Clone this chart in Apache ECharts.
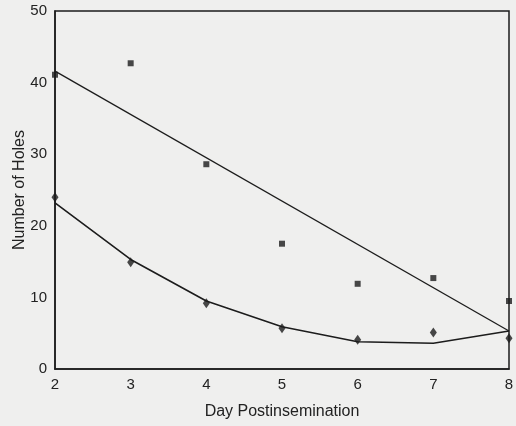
<!DOCTYPE html>
<html>
<head>
<meta charset="utf-8">
<script src="https://cdn.jsdelivr.net/npm/echarts@6/dist/echarts.min.js"></script>
<style>
html,body{margin:0;padding:0;background:#efefee;}
#c{width:516px;height:426px;}
</style>
</head>
<body>
<div id="c"></div>
<script>
var days = [2, 3, 4, 5, 6, 7, 8];
var squareValues = [41.1, 42.7, 28.6, 17.5, 11.9, 12.7, 9.5];
var diamondValues = [24.0, 14.9, 9.2, 5.7, 4.1, 5.1, 4.3];
var upperFitDays = [2, 8];
var upperFitValues = [41.6, 5.3];
var lowerFitValues = [23.2, 15.3, 9.5, 5.9, 3.8, 3.6, 5.3];
var yTicks = [0, 10, 20, 30, 40, 50];
var xTitle = 'Day Postinsemination';
var yTitle = 'Number of Holes';

function pairs(xs, ys){ return xs.map(function(x,i){ return [x, ys[i]]; }); }

var ink = '#1c1c1c';
var font = 'Liberation Sans, Arial, sans-serif';
var chart = echarts.init(document.getElementById('c'));
chart.setOption({
  backgroundColor: '#efefee',
  animation: false,
  grid: {left: 55, right: 7, top: 11, bottom: 57, outerBoundsMode: 'none', containLabel: false, show: true, borderColor: ink, borderWidth: 1.5, backgroundColor: 'transparent'},
  xAxis: {
    type: 'value', min: days[0], max: days[days.length-1], interval: 1,
    name: xTitle, nameLocation: 'middle', nameGap: 35, nameMoveOverlap: false,
    nameTextStyle: {color: '#222', fontSize: 16, fontFamily: font},
    axisLine: {show: true, lineStyle: {color: ink, width: 1.5}},
    axisTick: {show: false},
    splitLine: {show: false},
    axisLabel: {color: '#222', fontSize: 15, fontFamily: font, margin: 8}
  },
  yAxis: {
    type: 'value', min: yTicks[0], max: yTicks[yTicks.length-1], interval: 10,
    name: yTitle, nameLocation: 'middle', nameGap: 27, nameMoveOverlap: false,
    nameTextStyle: {color: '#222', fontSize: 16, fontFamily: font},
    axisLine: {show: true, lineStyle: {color: ink, width: 1.5}},
    axisTick: {show: false},
    splitLine: {show: false},
    axisLabel: {color: '#222', fontSize: 15, fontFamily: font, margin: 8}
  },
  series: [
    {type: 'line', data: pairs(upperFitDays, upperFitValues), showSymbol: false, lineStyle: {color: ink, width: 1.3}, z: 2},
    {type: 'line', data: pairs(days, lowerFitValues), showSymbol: false, lineStyle: {color: ink, width: 1.6}, z: 2},
    {type: 'scatter', data: pairs(days, squareValues), symbol: 'rect', symbolSize: 6, itemStyle: {color: ink}, z: 3},
    {type: 'scatter', data: pairs(days, diamondValues), symbol: 'diamond', symbolSize: [7, 10], itemStyle: {color: ink}, z: 3}
  ]
});
</script>
</body>
</html>
